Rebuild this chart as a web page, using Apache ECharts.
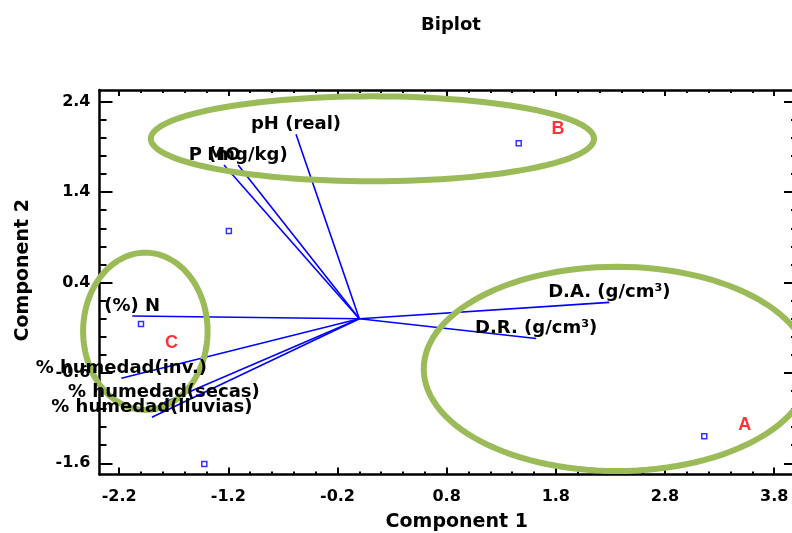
<!DOCTYPE html>
<html><head><meta charset="utf-8">
<script src="https://cdn.jsdelivr.net/npm/echarts@6/dist/echarts.min.js"></script>
<style>html,body{margin:0;padding:0;background:#fff}#c{width:792px;height:533px}</style>
</head><body><div id="c"></div>
<script>
const titleText = 'Biplot';
const xTitle = 'Component 1';
const yTitle = 'Component 2';
const xRange = [-2.38, 4.0];
const yRange = [-1.724, 2.53];
const xTickValues = [-2.2, -1.2, -0.2, 0.8, 1.8, 2.8, 3.8];
const yTickValues = [-1.6, -0.6, 0.4, 1.4, 2.4];
const xMinorTickValues = [-2.2, -2.0, -1.8, -1.6, -1.4, -1.2, -1.0, -0.8, -0.6, -0.4, -0.2, 0.0, 0.2, 0.4, 0.6, 0.8, 1.0, 1.2, 1.4, 1.6, 1.8, 2.0, 2.2, 2.4, 2.6, 2.8, 3.0, 3.2, 3.4, 3.6, 3.8];
const yMinorTickValues = [-1.6, -1.4, -1.2, -1.0, -0.8, -0.6, -0.4, -0.2, 0.0, 0.2, 0.4, 0.6, 0.8, 1.0, 1.2, 1.4, 1.6, 1.8, 2.0, 2.2, 2.4];

const vectorNames = ['pH (real)', 'MO', 'P (mg/kg)', '(%) N', '% humedad(inv.)', '% humedad(secas)', '% humedad(lluvias)', 'D.A. (g/cm³)', 'D.R. (g/cm³)'];
const vectorX = [-0.58, -1.24, -1.11, -2.08, -2.18, -1.79, -1.90, 2.29, 1.62];
const vectorY = [2.04, 1.70, 1.70, 0.03, -0.66, -0.93, -1.09, 0.18, -0.22];

const obsX = [1.46, -1.195, -2.0, -1.42, 3.16];
const obsY = [1.94, 0.97, -0.06, -1.607, -1.30];

const groupNames = ['A', 'B', 'C'];
const groupX = [3.53, 1.82, -1.72];
const groupY = [-1.18, 2.10, -0.27];

const ellipseCX = [2.36, 0.12, -1.96];
const ellipseCY = [-0.556, 1.99, -0.14];
const ellipseRX = [1.77, 2.03, 0.57];
const ellipseRY = [1.13, 0.47, 0.87];

const FONT = 'DejaVu Sans';
const chart = echarts.init(document.getElementById('c'));

const gridRect = { left: 99.5, top: 90, width: 696.5, height: 384.5, containLabel: false, outerBoundsMode: 'none' };
const lineSty = { color: '#000', width: 2.5 };

function majorX(pos, withLabel, len) {
  return {
    type: 'value', gridIndex: 0, position: pos, min: xRange[0], max: xRange[1],
    axisLine: { show: true, onZero: false, lineStyle: lineSty },
    axisTick: { show: true, inside: true, length: len, customValues: xTickValues, lineStyle: { color: '#000', width: 2 } },
    axisLabel: withLabel ? { show: true, customValues: xTickValues, margin: 14, color: '#000', fontFamily: FONT, fontWeight: 'bold', fontSize: 16, formatter: v => v.toFixed(1) } : { show: false },
    splitLine: { show: false }
  };
}
function minorX(pos, len) {
  return {
    type: 'value', gridIndex: 1, position: pos, min: xRange[0], max: xRange[1],
    axisLine: { show: false, onZero: false },
    axisTick: { show: true, inside: true, length: len, customValues: xMinorTickValues, lineStyle: { color: '#000', width: 2 } },
    axisLabel: { show: false }, splitLine: { show: false }
  };
}
function majorY(pos, withLabel, len) {
  return {
    type: 'value', gridIndex: 0, position: pos, min: yRange[0], max: yRange[1],
    axisLine: { show: true, onZero: false, lineStyle: lineSty },
    axisTick: { show: true, inside: true, length: len, customValues: yTickValues, lineStyle: { color: '#000', width: 2 } },
    axisLabel: withLabel ? { show: true, customValues: yTickValues, margin: 9, color: '#000', fontFamily: FONT, fontWeight: 'bold', fontSize: 16, formatter: v => v.toFixed(1) } : { show: false },
    splitLine: { show: false }
  };
}
function minorY(pos, len) {
  return {
    type: 'value', gridIndex: 1, position: pos, min: yRange[0], max: yRange[1],
    axisLine: { show: false, onZero: false },
    axisTick: { show: true, inside: true, length: len, customValues: yMinorTickValues, lineStyle: { color: '#000', width: 2 } },
    axisLabel: { show: false }, splitLine: { show: false }
  };
}

const xBottom = Object.assign(majorX('bottom', true, 7), {
  name: xTitle, nameLocation: 'middle', nameGap: 38,
  nameTextStyle: { color: '#000', fontFamily: FONT, fontWeight: 'bold', fontSize: 19, padding: [0, 0, 0, 18] }
});
const yLeft = Object.assign(majorY('left', true, 13), {
  name: yTitle, nameLocation: 'middle', nameGap: 67,
  nameTextStyle: { color: '#000', fontFamily: FONT, fontWeight: 'bold', fontSize: 19, padding: [0, 0, 0, 24] }
});

const option = {
  animation: false,
  backgroundColor: '#fff',
  title: {
    text: titleText, left: 446, top: 11, textAlign: 'center',
    textStyle: { color: '#000', fontFamily: FONT, fontWeight: 'bold', fontSize: 18 }
  },
  grid: [Object.assign({}, gridRect), Object.assign({}, gridRect)],
  xAxis: [xBottom, majorX('top', false, 6), minorX('bottom', 3), minorX('top', 3)],
  yAxis: [yLeft, majorY('right', false, 12), minorY('left', 7), minorY('right', 5)],
  series: [
    {
      name: 'vectors', type: 'custom', xAxisIndex: 0, yAxisIndex: 0, z: 2,
      data: vectorX.map((x, i) => [x, vectorY[i]]),
      renderItem: function (params, api) {
        const p0 = api.coord([0, 0]);
        const p1 = api.coord([api.value(0), api.value(1)]);
        return { type: 'line', shape: { x1: p0[0], y1: p0[1], x2: p1[0], y2: p1[1] },
                 style: { stroke: '#0000ff', lineWidth: 1.6 } };
      }
    },
    {
      name: 'ellipses', type: 'custom', xAxisIndex: 0, yAxisIndex: 0, z: 3,
      data: ellipseCX.map((cx, i) => [cx, ellipseCY[i], ellipseRX[i], ellipseRY[i]]),
      renderItem: function (params, api) {
        const c = api.coord([api.value(0), api.value(1)]);
        const s = api.size([api.value(2), api.value(3)]);
        const pts = [];
        for (let k = 0; k < 120; k++) {
          const t = k / 120 * Math.PI * 2;
          pts.push([c[0] + s[0] * Math.cos(t), c[1] + s[1] * Math.sin(t)]);
        }
        return { type: 'polygon', shape: { points: pts },
                 style: { fill: 'none', stroke: '#9bbb59', lineWidth: 6 } };
      }
    },
    {
      name: 'observations', type: 'scatter', xAxisIndex: 0, yAxisIndex: 0, z: 4,
      symbol: 'rect', symbolSize: 5,
      itemStyle: { color: '#fff', borderColor: '#0000ff', borderWidth: 1.5 },
      data: obsX.map((x, i) => [x, obsY[i]])
    },
    {
      name: 'vectorLabels', type: 'custom', xAxisIndex: 0, yAxisIndex: 0, z: 5,
      data: vectorX.map((x, i) => [x, vectorY[i]]),
      renderItem: function (params, api) {
        const p1 = api.coord([api.value(0), api.value(1)]);
        return { type: 'text', x: p1[0], y: p1[1] - 10,
                 style: { text: vectorNames[params.dataIndex], align: 'center', verticalAlign: 'middle',
                          fill: '#000', fontFamily: FONT, fontWeight: 'bold', fontSize: 18 } };
      }
    },
    {
      name: 'groups', type: 'scatter', xAxisIndex: 0, yAxisIndex: 0, z: 6,
      symbolSize: 0,
      data: groupX.map((x, i) => ({ value: [x, groupY[i]], name: groupNames[i] })),
      label: { show: true, position: 'inside', formatter: p => p.name, color: '#ff0000',
               fontFamily: 'Liberation Sans', fontWeight: 'bold', fontSize: 18 }
    }
  ]
};
chart.setOption(option);
</script></body></html>
